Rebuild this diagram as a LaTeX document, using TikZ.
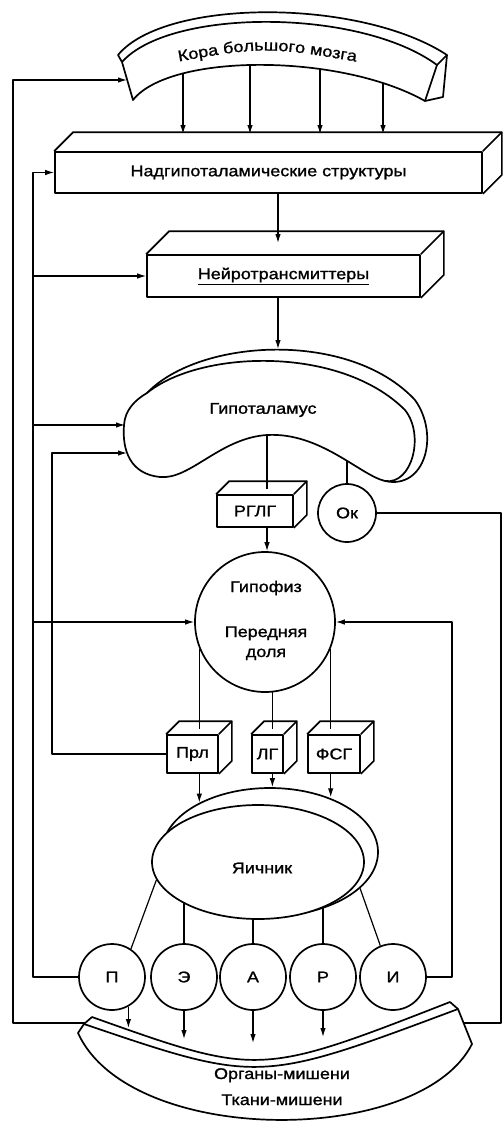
\documentclass[tikz,border=0pt]{standalone}
\usepackage{fontspec}
\setmainfont{Liberation Sans}[FakeStretch=1.16, FakeBold=1.2]
\usetikzlibrary{calc,shapes.geometric,arrows.meta,decorations.text}
\newcommand{\prismfaces}[2]{%
  \draw[shp,fill=none] (#1.north west) -- ++(#2,-#2) -- ($(#1.north east)+(#2,-#2)$) -- ($(#1.south east)+(#2,-#2)$) -- (#1.south east);
  \draw[shp,fill=none] (#1.north east) -- ++(#2,-#2);}
\begin{document}
\begin{tikzpicture}[x=1pt,y=-1pt,
  font=\fontsize{15.5}{18}\selectfont,
  shp/.style={draw, line width=1.7pt, line join=round, fill=white},
  ln/.style={line width=1.2pt, line join=round},
  arr/.style={ln, -{Latex[length=9pt,width=5.5pt]}},
  box/.style={shp, rectangle, inner sep=0pt},
  circ/.style={shp, circle, inner sep=0pt, minimum size=66pt},
  lbl/.style={inner sep=0pt}]
\useasboundingbox (0,0) rectangle (503,1122);

% ---- cortex
\draw[shp] (118,55) .. controls (165,-2) and (360,-2) .. (447,55) -- (443,97) -- (425,101)
  .. controls (340,53) and (170,53) .. (133,100) -- (122,62) -- cycle;
\draw[shp,fill=none] (122,62) .. controls (170,8) and (360,8) .. (437,65) -- (425,101);
\draw[shp,fill=none] (437,65) -- (447,55);
\path[decorate, decoration={text along path, text align=center,
  text={|\fontsize{15.5}{18}\selectfont|Кора большого мозга}}] (165,64) .. controls (265,46) .. (370,64);

% ---- boxes
\node[box, minimum width=427pt, minimum height=41pt] (nad) at (268.5,172.5) {Надгипоталамические структуры};
\prismfaces{nad}{19}
\node[box, minimum width=273pt, minimum height=42pt] (neu) at (283.5,276) {\underline{Нейротрансмиттеры}};
\prismfaces{neu}{23}

% ---- hypothalamus
\draw[shp,fill=none] (147,393) .. controls (200,338) and (350,330) .. (415,400) .. controls (440,435) and (425,490) .. (385,481);
\draw[shp] (147,393) .. controls (200,350) and (340,345) .. (405,410) .. controls (425,435) and (412,485) .. (385,481)
  .. controls (360,475) and (320,432) .. (267,435) .. controls (220,438) and (190,480) .. (160,477)
  .. controls (130,474) and (122,450) .. (124,425) .. controls (125,410) and (135,400) .. (147,393) -- cycle;
\node[lbl] (hyptx) at (263,410) {Гипоталамус};
\coordinate (hypTop) at (278,349);
\coordinate (hypB) at (267,436);
\coordinate (hypOk) at (347,461);
\coordinate (hypL1) at (125,425);
\coordinate (hypL2) at (127,453);

\node[box, minimum width=76pt, minimum height=32pt] (rglg) at (255,511) {РГЛГ};
\prismfaces{rglg}{13}
\node[circ, minimum size=58pt] (ok) at (347,513) {Ок};

% ---- pituitary
\node[shp, circle, inner sep=0pt, minimum size=140pt] (gip) at (265,622) {};
\node[lbl, anchor=base] (gip1) at (266,592) {Гипофиз};
\node[lbl, anchor=base] (gip2) at (266,637) {Передняя};
\node[lbl, anchor=base] (gip3) at (266,657) {доля};

\node[box, minimum width=51pt, minimum height=38pt] (prl) at (192.5,754) {Прл};
\node[box, minimum width=31pt, minimum height=38pt] (lg) at (267.5,754) {ЛГ};
\node[box, minimum width=52pt, minimum height=38pt] (fsg) at (334,754) {ФСГ};
\prismfaces{prl}{13}
\prismfaces{lg}{13}
\prismfaces{fsg}{13}

% ---- ovary
\node[shp, ellipse, inner sep=0pt, minimum width=216pt, minimum height=128pt] (ovo) at (270,852) {};
\node[shp, ellipse, inner sep=0pt, minimum width=212pt, minimum height=114pt] (ovi) at (258,862) {};
\node[lbl] (ovtx) at (262,868) {Яичник};

% ---- hormones
\node[circ] (P) at (112,977) {П};
\node[circ] (E) at (184,977) {Э};
\node[circ] (A) at (253,977) {А};
\node[circ] (R) at (323,977) {Р};
\node[circ] (I) at (393,977) {И};

% ---- target organs
\draw[shp] (92,1017) .. controls (259,1076.5) .. (450,1002) -- (458,1009) -- (472,1044)
  .. controls (420,1147) and (130,1147) .. (78,1033) -- (84,1024) -- cycle;
\draw[shp,fill=none] (84,1024) .. controls (259,1083.5) .. (458,1009);
\node[lbl, anchor=base] (org1) at (282,1079) {Органы-мишени};
\node[lbl, anchor=base] (org2) at (282,1105) {Ткани-мишени};
\coordinate (oP) at (128,1028);
\coordinate (oE) at (184,1039);
\coordinate (oA) at (253,1043);
\coordinate (oR) at (323,1037);

% ---- connectors
\coordinate (c1) at (183,73);
\coordinate (c2) at (250,65);
\coordinate (c3) at (320,69);
\coordinate (c4) at (383,83);
\coordinate (nadTop) at (0,134);
\foreach \c in {c1,c2,c3,c4} \draw[arr] (\c) -- (\c |- nadTop);

\coordinate (neuT) at (278,243);
\draw[arr] (neuT |- nad.south) -- (neuT);
\draw[arr] (hypTop |- neu.south) -- (hypTop);
\coordinate (rglgT) at (267,489);
\draw[ln] (hypB) -- (rglgT);
\draw[arr] (rglgT |- rglg.south) -- (rglgT |- gip.north);
\draw[ln] (hypOk) -- (hypOk |- ok.north);

\coordinate (rX) at (501,0);
\coordinate (orgR) at (464,1023);
\draw[ln] (ok.east) -- (ok.east -| rX) -- (rX |- orgR) -- (orgR);

\coordinate (lX) at (13,0);
\coordinate (orgL) at (85,1023);
\coordinate (ctxL) at (127,80);
\draw[arr] (orgL) -- (orgL -| lX) -- (lX |- ctxL) -- (ctxL);

\coordinate (mX) at (33,0);
\draw[arr] (P.west) -- (P.west -| mX) -- (mX |- nad.west) -- (nad.west);
\draw[arr] (mX |- neu.west) -- (neu.west);
\draw[arr] (mX |- hypL1) -- (hypL1);
\draw[arr] (mX |- gip.west) -- (gip.west);

\coordinate (iX) at (52,0);
\draw[arr] (prl.west) -- (prl.west -| iX) -- (iX |- hypL2) -- (hypL2);

\coordinate (rX2) at (452,0);
\draw[arr] (I.east) -- (I.east -| rX2) -- (rX2 |- gip.east) -- (gip.east);

\coordinate (boxT) at (0,729);
\draw[ln] (gip.202) -- (gip.202 |- boxT);
\draw[ln] (gip.-84) -- (gip.-84 |- boxT);
\draw[ln] (gip.-22) -- (gip.-22 |- boxT);
\draw[arr] (gip.202 |- prl.south) -- (gip.202 |- ovo.145);
\draw[arr] (gip.-84 |- lg.south) -- (gip.-84 |- ovo.north);
\draw[arr] (gip.-22 |- fsg.south) -- (gip.-22 |- ovo.43);

\draw[ln] (ovi.190) -- (P.56);
\draw[ln] (E.north |- ovi.209) -- (E.north);
\draw[ln] (A.north |- ovi.south) -- (A.north);
\draw[ln] (R.north |- ovi.325) -- (R.north);
\draw[ln] (ovo.-22) -- (I.112);

\draw[arr] (P.-61) -- (P.-61 |- oP);
\draw[arr] (E.south) -- (E.south |- oE);
\draw[arr] (A.south) -- (A.south |- oA);
\draw[arr] (R.south) -- (R.south |- oR);
\end{tikzpicture}
\end{document}
